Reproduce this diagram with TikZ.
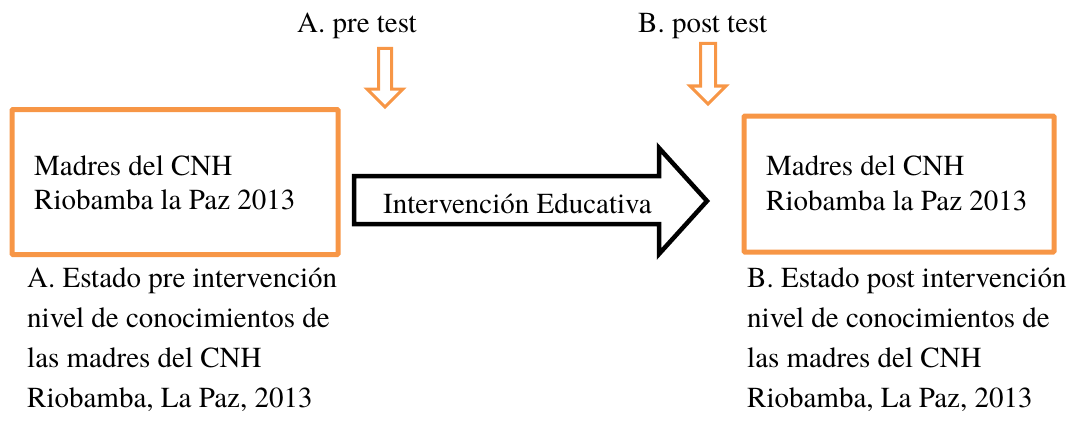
\documentclass[tikz,border=0pt]{standalone}
\usepackage{fontspec}
\setmainfont{TeX Gyre Termes}
\definecolor{wordorange}{HTML}{F79646}
\tikzset{
  obox/.style={draw=wordorange, line width=5pt, rounded corners=1pt, inner sep=0pt},
  txt/.style={anchor=base west, inner sep=0pt, font=\fontsize{29}{29}\selectfont},
  bigarrow/.style={draw=black, line width=4.5pt, miter limit=10, line join=miter},
  smallarrow/.style={draw=wordorange, line width=3pt, line join=miter}
}
\begin{document}
\begin{tikzpicture}[x=1pt,y=-1pt]
\useasboundingbox (0,0) rectangle (1079,444);
% boxes
\node[obox, minimum width=326pt, minimum height=145pt] (boxA) at (175,182) {};
\node[obox, minimum width=310pt, minimum height=136pt] (boxB) at (899,184) {};
% box texts
\node[txt] (a1) at (34,175) {Madres del CNH};
\node[txt] (a2) at (34,209) {Riobamba la Paz 2013};
\node[txt] (b1) at (766,175) {Madres del CNH};
\node[txt] (b2) at (766,210) {Riobamba la Paz 2013};
% big arrow
\draw[bigarrow] (354,176) -- (659,176) -- (659,148) -- (707,201) -- (659,254) -- (659,224) -- (354,224) -- cycle;
\node[txt] (interv) at (383,213) {Intervención Educativa};
% top labels
\node[txt] (pre) at (297,33) {A. pre test};
\node[txt] (post) at (638,33) {B. post test};
% small arrows
\draw[smallarrow] (378.5,48.5) -- (391.5,48.5) -- (391.5,89) -- (403,89) -- (385,107) -- (367,89) -- (378.5,89) -- cycle;
\draw[smallarrow] (700.5,43.5) -- (715.5,43.5) -- (715.5,86) -- (726,86) -- (708,104) -- (690,86) -- (700.5,86) -- cycle;
% bottom texts
\node[txt] (la1) at (27,287) {A. Estado pre intervención};
\node[txt] (la2) at (27,327) {nivel de conocimientos de};
\node[txt] (la3) at (27,367) {las madres del CNH};
\node[txt] (la4) at (27,407) {Riobamba, La Paz, 2013};
\node[txt] (lb1) at (747,287) {B. Estado post intervención};
\node[txt] (lb2) at (747,327) {nivel de conocimientos de};
\node[txt] (lb3) at (747,367) {las madres del CNH};
\node[txt] (lb4) at (747,407) {Riobamba, La Paz, 2013};
\end{tikzpicture}
\end{document}
